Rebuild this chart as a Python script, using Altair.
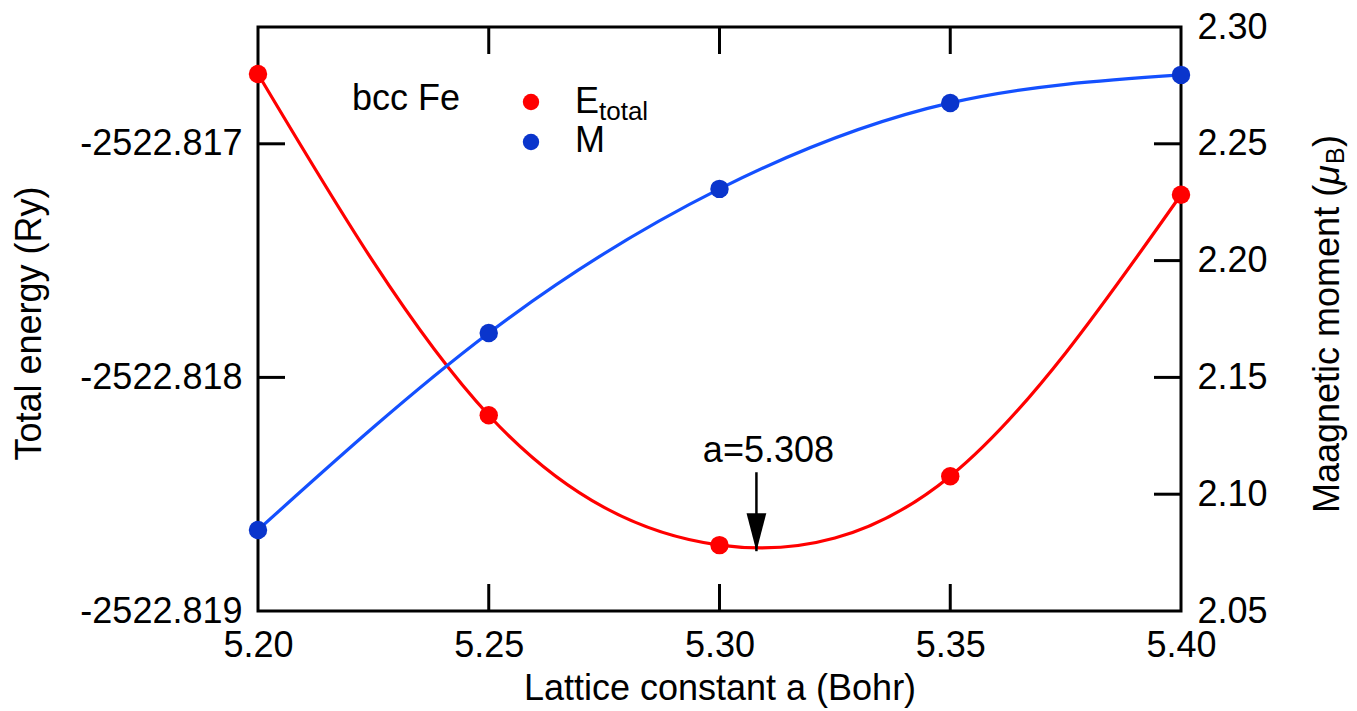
import altair as alt
import pandas as pd

FONT = "Liberation Sans"

# ---- data ----
a_vals = [5.20, 5.25, 5.30, 5.35, 5.40]
e_total = [-2522.816701, -2522.818162, -2522.818718, -2522.818423, -2522.817218]
mag_moment = [2.0847, 2.1690, 2.2307, 2.2675, 2.2795]

x_tick_labels = [5.20, 5.25, 5.30, 5.35, 5.40]
e_tick_labels = [-2522.819, -2522.818, -2522.817]
m_tick_labels = [2.05, 2.10, 2.15, 2.20, 2.25, 2.30]
x_inner_ticks = [5.25, 5.30, 5.35]
e_inner_ticks = [-2522.818, -2522.817]
m_inner_ticks = [2.10, 2.15, 2.20, 2.25]

a_opt = [5.308]
arrow_top = [-2522.818406]
arrow_tip = [-2522.818744]
arrow_label = ["a=5.308"]

legend_labels = ["bcc Fe", "E", "total", "M"]

RED = "#ff0000"
BLUE_LINE = "#1450ff"
BLUE_PT = "#0a35cc"

W, H = 923, 584
TICK = 27
FS = 36

E_df = pd.DataFrame({"a": a_vals, "E": e_total})
M_df = pd.DataFrame({"a": a_vals, "M": mag_moment})

x_enc = alt.X(
    "a:Q",
    scale=alt.Scale(domain=[5.20, 5.40], nice=False, zero=False),
    axis=alt.Axis(
        values=x_tick_labels, format=".2f", title="Lattice constant a (Bohr)",
        domain=False, ticks=False, tickSize=0, grid=False, labelPadding=17,
        labelFlush=False, titleX=461.5, titleY=88, titleAlign="center",
        titleBaseline="alphabetic", titleFontSize=FS,
    ),
)

yE = alt.Y(
    "E:Q",
    scale=alt.Scale(domain=[-2522.819, -2522.8165], nice=False, zero=False),
    axis=alt.Axis(
        values=e_tick_labels,
        labelExpr="replace(format(datum.value, '.3f'), '\u2212', '-')",
        title="Total energy (Ry)", domain=False, ticks=False, tickSize=0,
        grid=False, labelPadding=16, titleX=-229, titleY=296, titleAngle=270,
        titleAlign="center", titleBaseline="middle", titleFontSize=FS,
    ),
)

yM = alt.Y(
    "M:Q",
    scale=alt.Scale(domain=[2.05, 2.30], nice=False, zero=False),
    axis=alt.Axis(
        orient="right", values=m_tick_labels, format=".2f", title=None,
        domain=False, ticks=False, tickSize=0, grid=False, labelPadding=16,
    ),
)

# ---- energy group ----
e_line = alt.Chart(E_df).mark_line(color=RED, strokeWidth=3.2, interpolate="natural").encode(x=x_enc, y=yE)
e_pts = alt.Chart(E_df).mark_circle(color=RED, size=340, opacity=1).encode(x=x_enc, y=yE)

xt_df = pd.DataFrame({"a": x_inner_ticks})
top_ticks = alt.Chart(xt_df).mark_rule(color="black", strokeWidth=3).encode(
    x=x_enc, y=alt.value(0), y2=alt.value(TICK))
bot_ticks = alt.Chart(xt_df).mark_rule(color="black", strokeWidth=3).encode(
    x=x_enc, y=alt.value(H), y2=alt.value(H - TICK))
et_df = pd.DataFrame({"E": e_inner_ticks})
left_ticks = alt.Chart(et_df).mark_rule(color="black", strokeWidth=3).encode(
    y=yE, x=alt.value(0), x2=alt.value(TICK))

arrow_df = pd.DataFrame({"a": a_opt, "E": arrow_top, "E2": arrow_tip, "lab": arrow_label})
tip_df = pd.DataFrame({"a": a_opt, "E": arrow_tip})
arrow_rule = alt.Chart(arrow_df).mark_rule(color="black", strokeWidth=2.5).encode(
    x=x_enc, y=yE, y2="E2:Q")
arrow_head = alt.Chart(tip_df).mark_point(
    shape="M-0.26,-1L0.26,-1L0,0Z", size=5776, filled=True, color="black",
    opacity=1, strokeWidth=0).encode(x=x_enc, y=yE)
arrow_text = alt.Chart(arrow_df).mark_text(
    font=FONT, fontSize=FS, color="black", align="center", baseline="alphabetic",
    dx=12, dy=-10).encode(x=x_enc, y=yE, text="lab:N")

one = pd.DataFrame({"k": [0]})


def ptext(txt, x, y, size=FS, **kw):
    return alt.Chart(one).mark_text(
        font=FONT, fontSize=size, color="black", align="left",
        baseline="alphabetic", **kw).encode(
        x=alt.value(x), y=alt.value(y), text=alt.value(txt))


leg_title = ptext(legend_labels[0], 94, 83)
leg_E = ptext(legend_labels[1], 317, 86)
leg_total = ptext(legend_labels[2], 341, 93, size=26)
leg_M = ptext(legend_labels[3], 317, 125)
leg_dot_r = alt.Chart(one).mark_circle(color=RED, size=270, opacity=1).encode(
    x=alt.value(273), y=alt.value(75))
leg_dot_b = alt.Chart(one).mark_circle(color=BLUE_PT, size=270, opacity=1).encode(
    x=alt.value(273), y=alt.value(115))

# right axis title with italic mu and subscript B
RX, RY = 1070, 486


def rtext(txt, dx, size=FS, dy=0, style="normal"):
    return alt.Chart(one).mark_text(
        font=FONT, fontSize=size, color="black", align="left", baseline="middle",
        angle=270, dx=dx, dy=dy, fontStyle=style).encode(
        x=alt.value(RX), y=alt.value(RY), text=alt.value(txt))


r1 = rtext("Maagnetic moment (", 0)
r2 = rtext("\u03bc", 328, style="italic")
r3 = rtext("B", 349, size=25, dy=8)
r4 = rtext(")", 366)

E_group = alt.layer(
    e_line, top_ticks, bot_ticks, left_ticks, arrow_rule, arrow_head, arrow_text,
    leg_title, leg_E, leg_total, leg_M, leg_dot_r, leg_dot_b, r1, r2, r3, r4, e_pts,
)

# ---- magnetic moment group ----
m_line = alt.Chart(M_df).mark_line(color=BLUE_LINE, strokeWidth=3.2, interpolate="natural").encode(x=x_enc, y=yM)
m_pts = alt.Chart(M_df).mark_circle(color=BLUE_PT, size=340, opacity=1).encode(x=x_enc, y=yM)
mt_df = pd.DataFrame({"M": m_inner_ticks})
right_ticks = alt.Chart(mt_df).mark_rule(color="black", strokeWidth=3).encode(
    y=yM, x=alt.value(W), x2=alt.value(W - TICK))

M_group = alt.layer(m_line, right_ticks, m_pts)

chart = (
    alt.layer(E_group, M_group)
    .resolve_scale(y="independent")
    .properties(
        width=W, height=H,
        padding={"left": 250, "top": 19, "right": 168, "bottom": 97},
        autosize=alt.AutoSizeParams(type="none"),
    )
    .configure_view(stroke="black", strokeWidth=3)
    .configure_axis(
        labelFont=FONT, titleFont=FONT, labelFontSize=FS, titleFontSize=FS,
        labelColor="black", titleColor="black", titleFontWeight="normal",
    )
    .configure_text(font=FONT)
)

chart.save("out.html", embed_options={"renderer": "svg", "actions": False})
